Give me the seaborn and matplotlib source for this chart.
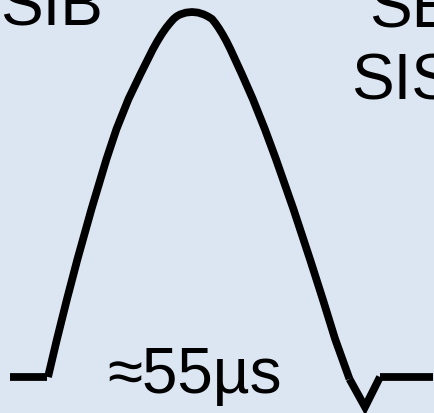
import matplotlib
matplotlib.use("Agg")
import matplotlib.pyplot as plt
import seaborn as sns

# Pulse outline: horizontal position and amplitude above the baseline
baseline_left_x = [10, 47]
baseline_left_y = [0, 0]

pulse_x = [48, 57, 67, 77.5, 91.5, 106.5, 116.5, 128.5, 140.5, 153, 157.5, 161.8, 166, 170,
           173.5, 176.5, 180, 186, 192,
           198, 204, 208, 212, 215.2, 218.7, 222.4, 226.3, 230.3, 241.8, 252.8, 264.8, 275.9,
           293.4, 309.9, 322.7, 335.1, 349.5]
pulse_y = [0, 38, 78, 118, 168, 218, 248, 278, 303, 328, 336, 343, 349, 354,
           358, 360.5, 362.5, 364.4, 365,
           364.4, 362.5, 360.5, 358, 354, 349, 343, 336, 328, 303, 278, 248, 218,
           168, 118, 78, 38, -2]

dip_x = [349.5, 365, 380]
dip_y = [-2, -30, 0]

baseline_right_x = [380, 433]
baseline_right_y = [0, 0]

label_left = "SIB"
label_right_top = "SE"
label_right = "SIS"
label_width = "\u224855\u00b5s"

sns.set_theme(style="white")
plt.rcParams["font.family"] = ["Liberation Sans", "DejaVu Sans"]

bg = "#dce6f2"
fig = plt.figure(figsize=(4.35, 4.14), dpi=100, facecolor=bg)
ax = fig.add_axes([0, 0, 1, 1])
ax.set_facecolor(bg)

lw = 5.6
common = dict(color="black", linewidth=lw, legend=False, sort=False, ax=ax)
sns.lineplot(x=baseline_left_x, y=baseline_left_y, **common)
sns.lineplot(x=pulse_x, y=pulse_y, **common)
sns.lineplot(x=dip_x, y=dip_y, **common)
sns.lineplot(x=baseline_right_x, y=baseline_right_y, **common)

for ln in ax.lines:
    ln.set_solid_capstyle("butt")
    ln.set_solid_joinstyle("round")
ax.lines[2].set_solid_joinstyle("miter")

fs = 46
ax.text(0, 353, label_left, fontsize=fs, color="black", ha="left", va="baseline")
ax.text(369, 351, label_right_top, fontsize=fs, color="black", ha="left", va="baseline")
ax.text(351, 278, label_right, fontsize=fs, color="black", ha="left", va="baseline")
ax.text(107, -15, label_width, fontsize=fs, color="black", ha="left", va="baseline")

ax.set_xlim(0, 435)
ax.set_ylim(-36, 378)
ax.axis("off")

fig.savefig("out.png", dpi=100, facecolor=bg)
